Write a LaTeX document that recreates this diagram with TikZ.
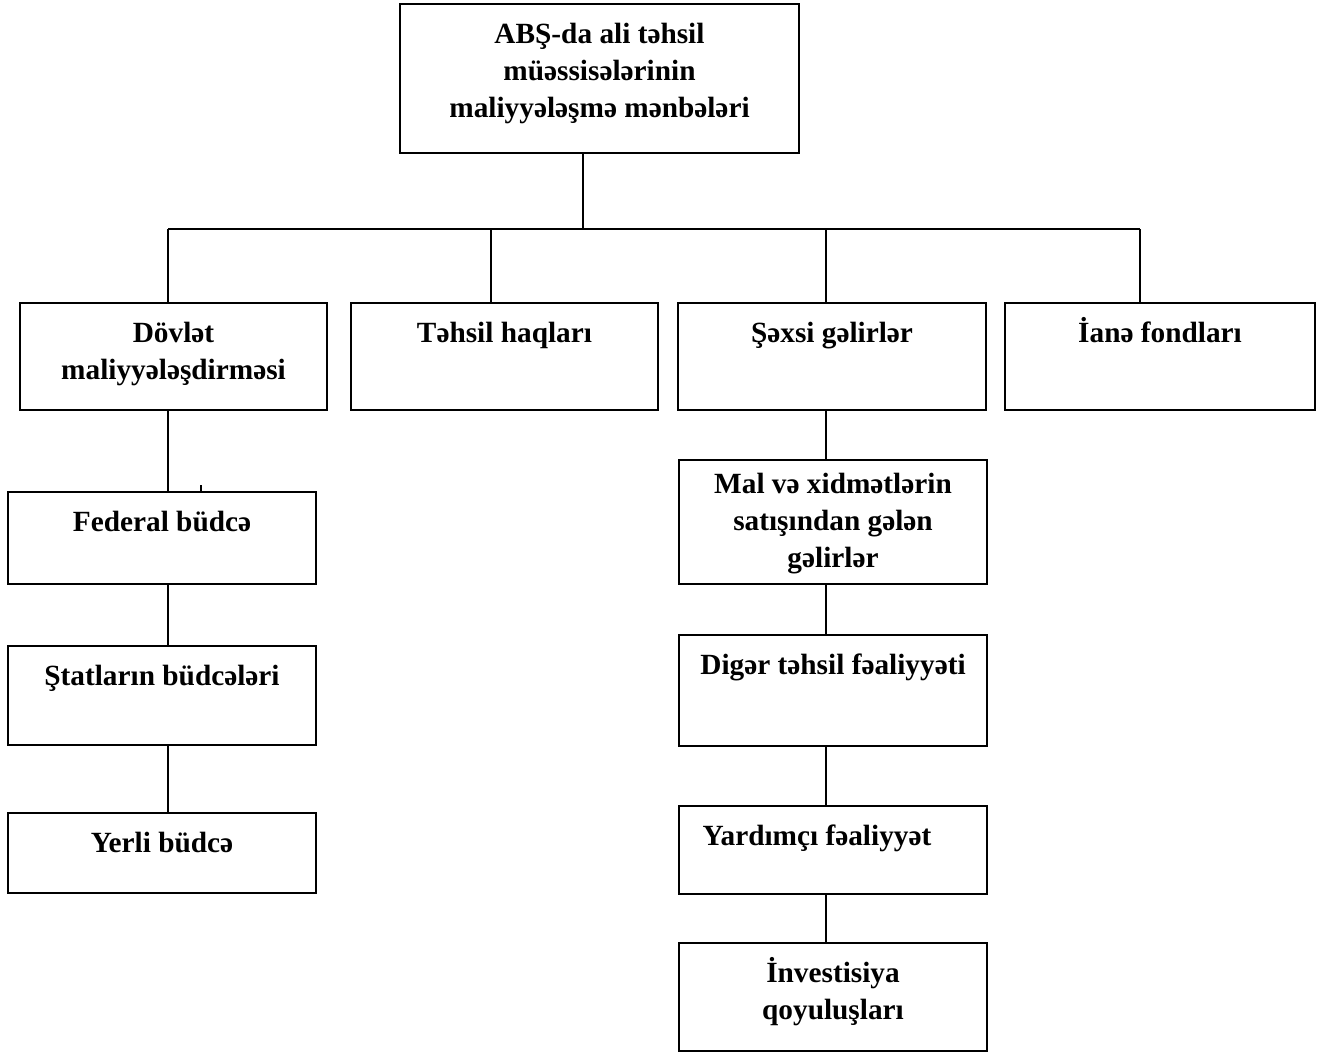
\documentclass[tikz,border=0pt]{standalone}
\usepackage{fontspec}
\setmainfont{Liberation Serif}
\begin{document}
\begin{tikzpicture}[x=1pt,y=-1pt,
  box/.style={draw, line width=1.5pt, rectangle, inner sep=0pt},
  lbl/.style={anchor=north, inner sep=0pt, align=center, font=\fontsize{29.3}{37}\selectfont\bfseries},
  conn/.style={line width=1.5pt}]
\useasboundingbox (0,0) rectangle (1322,1054);
% boxes
\node[box, minimum width=399pt, minimum height=149pt] (top) at (599.5,78.5) {};
\node[box, minimum width=307pt, minimum height=107pt] (dov) at (173.5,356.5) {};
\node[box, minimum width=307pt, minimum height=107pt] (tah) at (504.5,356.5) {};
\node[box, minimum width=308pt, minimum height=107pt] (sax) at (832,356.5) {};
\node[box, minimum width=310pt, minimum height=107pt] (ian) at (1160,356.5) {};
\node[box, minimum width=308pt, minimum height=92pt] (fed) at (162,538) {};
\node[box, minimum width=308pt, minimum height=99pt] (sta) at (162,695.5) {};
\node[box, minimum width=308pt, minimum height=80pt] (yer) at (162,853) {};
\node[box, minimum width=308pt, minimum height=124pt] (mal) at (833,522) {};
\node[box, minimum width=308pt, minimum height=111pt] (dig) at (833,690.5) {};
\node[box, minimum width=308pt, minimum height=88pt] (yar) at (833,850) {};
\node[box, minimum width=308pt, minimum height=108pt] (inv) at (833,997) {};
% labels
\node[lbl] (ttop) at (599.5,17) {\strut ABŞ-da ali təhsil\\\strut müəssisələrinin\\\strut maliyyələşmə mənbələri};
\node[lbl] (tdov) at (173.5,316) {\strut Dövlət\\\strut maliyyələşdirməsi};
\node[lbl] (ttah) at (504.5,316) {\strut Təhsil haqları};
\node[lbl] (tsax) at (832,316) {\strut Şəxsi gəlirlər};
\node[lbl] (tian) at (1160,316) {\strut İanə fondları};
\node[lbl] (tfed) at (162,505) {\strut Federal büdcə};
\node[lbl] (tsta) at (162,659) {\strut Ştatların büdcələri};
\node[lbl] (tyer) at (162,826) {\strut Yerli büdcə};
\node[lbl] (tmal) at (833,467) {\strut Mal və xidmətlərin\\\strut satışından gələn\\\strut gəlirlər};
\node[lbl] (tdig) at (833,648) {\strut Digər təhsil fəaliyyəti};
\node[lbl] (tyar) at (817,819) {\strut Yardımçı fəaliyyət};
\node[lbl] (tinv) at (833,956) {\strut İnvestisiya\\\strut qoyuluşları};
% bus
\coordinate (j) at (583,229);
\coordinate (b1) at (168,229);
\coordinate (b2) at (491,229);
\coordinate (b3) at (826,229);
\coordinate (b4) at (1140,229);
\coordinate (tk) at (201,485);
\draw[conn] (top.south -| j) -- (j);
\draw[conn] (b1) -- (b4);
\draw[conn] (b1) -- (b1 |- dov.north);
\draw[conn] (b2) -- (b2 |- tah.north);
\draw[conn] (b3) -- (b3 |- sax.north);
\draw[conn] (b4) -- (b4 |- ian.north);
% left column
\draw[conn] (b1 |- dov.south) -- (b1 |- fed.north);
\draw[conn] (tk) -- (tk |- fed.north);
\draw[conn] (b1 |- fed.south) -- (b1 |- sta.north);
\draw[conn] (b1 |- sta.south) -- (b1 |- yer.north);
% right column
\draw[conn] (b3 |- sax.south) -- (b3 |- mal.north);
\draw[conn] (b3 |- mal.south) -- (b3 |- dig.north);
\draw[conn] (b3 |- dig.south) -- (b3 |- yar.north);
\draw[conn] (b3 |- yar.south) -- (b3 |- inv.north);
\end{tikzpicture}
\end{document}
